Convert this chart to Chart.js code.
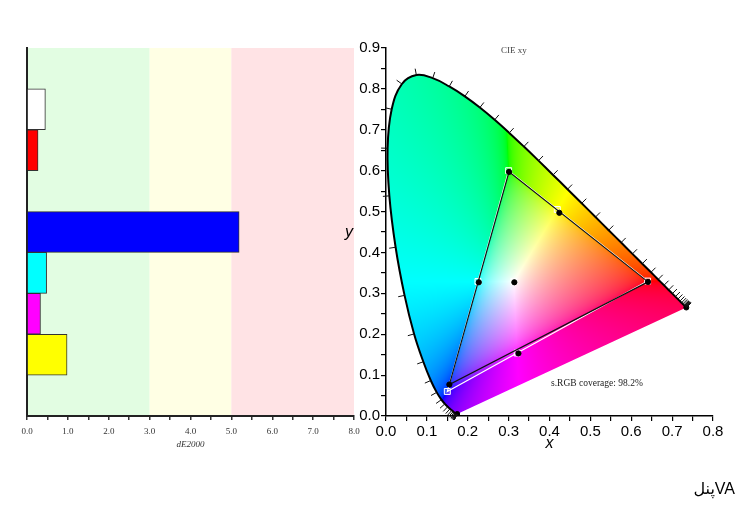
<!DOCTYPE html>
<html><head><meta charset="utf-8">
<script src="https://cdn.jsdelivr.net/npm/chart.js@4"></script>
<style>
html,body{margin:0;padding:0;background:#fff;width:751px;height:517px;overflow:hidden;position:relative;}
#left{position:absolute;left:0;top:0;}
#right{position:absolute;left:330px;top:0;}
#cap{position:absolute;right:16px;top:479px;font:16px "Liberation Sans","DejaVu Sans",sans-serif;color:#000;direction:ltr;}
</style></head><body>
<canvas id="left" width="370" height="517"></canvas>
<canvas id="right" width="421" height="517"></canvas>
<div id="cap">پنلVA</div>
<script>
// ---------- left panel data ----------
const patchNames  = ['Black','White','Red','Green','Blue','Cyan','Magenta','Yellow','Gray'];
const dE2000      = [null, 0.45, 0.27, null, 5.19, 0.48, 0.33, 0.98, null];
const patchColors = ['#000000','#ffffff','#ff0000','#00ff00','#0000ff','#00ffff','#ff00ff','#ffff00','#808080'];
const bandEdges   = [0, 3, 5, 8];
const bandColors  = ['#e2fde2', '#ffffe4', '#ffe3e5'];

// ---------- right panel data (CIE 1931 xy) ----------
const wavelengths = [380,385,390,395,400,405,410,415,420,425,430,435,440,445,450,455,460,465,470,475,480,485,490,495,500,505,510,515,520,525,530,535,540,545,550,555,560,565,570,575,580,585,590,595,600,605,610,615,620,625,630,635,640,645,650,655,660,665,670,675,680,685,690,695,700];
const locusX = [0.1741,0.1740,0.1738,0.1736,0.1733,0.1730,0.1726,0.1721,0.1714,0.1703,0.1689,0.1669,0.1644,0.1611,0.1566,0.1510,0.1440,0.1355,0.1241,0.1096,0.0913,0.0687,0.0454,0.0235,0.0082,0.0039,0.0139,0.0389,0.0743,0.1142,0.1547,0.1929,0.2296,0.2658,0.3016,0.3373,0.3731,0.4087,0.4441,0.4788,0.5125,0.5448,0.5752,0.6029,0.6270,0.6482,0.6658,0.6801,0.6915,0.7006,0.7079,0.7140,0.7190,0.7230,0.7260,0.7283,0.7300,0.7311,0.7320,0.7327,0.7334,0.7340,0.7344,0.7346,0.7347];
const locusY = [0.0050,0.0050,0.0049,0.0049,0.0048,0.0048,0.0048,0.0048,0.0051,0.0058,0.0069,0.0086,0.0109,0.0138,0.0177,0.0227,0.0297,0.0399,0.0578,0.0868,0.1327,0.2007,0.2950,0.4127,0.5384,0.6548,0.7502,0.8120,0.8338,0.8262,0.8059,0.7816,0.7543,0.7243,0.6923,0.6589,0.6245,0.5896,0.5547,0.5202,0.4866,0.4544,0.4242,0.3965,0.3725,0.3514,0.3340,0.3197,0.3083,0.2993,0.2920,0.2859,0.2809,0.2770,0.2740,0.2717,0.2700,0.2689,0.2680,0.2673,0.2666,0.2660,0.2656,0.2654,0.2653];
const locusEndX = [0.1741, 0.7347];
const locusEndY = [0.0050, 0.2653];

// sRGB reference gamut (closed triangle) and its patch targets
const refTriX = [0.640, 0.300, 0.150, 0.640];
const refTriY = [0.330, 0.600, 0.060, 0.330];
const refPtsX = [0.640, 0.300, 0.150, 0.419, 0.321, 0.225, 0.3127];
const refPtsY = [0.330, 0.600, 0.060, 0.505, 0.154, 0.329, 0.3290];
// measured gamut (closed triangle) and measured patches
const measTriX = [0.641, 0.301, 0.155, 0.641];
const measTriY = [0.328, 0.597, 0.077, 0.328];
const measPtsX = [0.641, 0.301, 0.155, 0.424, 0.324, 0.227, 0.314];
const measPtsY = [0.328, 0.597, 0.077, 0.497, 0.153, 0.327, 0.327];

const chartTitle = 'CIE xy';
const coverageText = 's.RGB coverage: 98.2%';

const pts = (xs, ys) => xs.map((v, i) => ({x: v, y: ys[i]}));

// ---------- left chart ----------
const bandsPlugin = {
  id: 'bands',
  beforeDraw(chart) {
    const {ctx, chartArea: a, scales: {x}} = chart;
    ctx.save();
    for (let i = 0; i < bandColors.length; i++) {
      const x0 = x.getPixelForValue(bandEdges[i]);
      const x1 = x.getPixelForValue(bandEdges[i + 1]);
      ctx.fillStyle = bandColors[i];
      ctx.fillRect(x0, a.top, x1 - x0, a.bottom - a.top);
    }
    ctx.restore();
  }
};

new Chart(document.getElementById('left'), {
  type: 'bar',
  data: {
    labels: patchNames,
    datasets: [{
      data: dE2000,
      backgroundColor: patchColors,
      borderColor: '#333',
      borderWidth: 1,
      barPercentage: 1,
      categoryPercentage: 1
    }]
  },
  options: {
    indexAxis: 'y',
    responsive: false,
    animation: false,
    devicePixelRatio: 1,
    layout: {padding: {left: 27, right: 16, top: 48, bottom: 67}},
    plugins: {legend: {display: false}, tooltip: {enabled: false}},
    scales: {
      y: {
        ticks: {display: false},
        grid: {display: false},
        border: {display: true, color: '#222', width: 2},
        afterFit(s) { s.width = 0; }
      },
      x: {
        type: 'linear', min: 0, max: 8,
        ticks: {
          stepSize: 0.5, autoSkip: false, maxRotation: 0, padding: 6,
          color: '#333',
          font: {family: '"Liberation Serif", serif', size: 9},
          callback: v => (Math.abs(v - Math.round(v)) < 1e-6 ? v.toFixed(1) : '')
        },
        grid: {display: true, drawOnChartArea: false, drawTicks: true, tickLength: 4, color: '#333', lineWidth: 1.5},
        border: {display: true, color: '#222', width: 2},
        title: {display: true, text: 'dE2000', color: '#333', padding: {top: 0, bottom: 0},
                font: {family: '"Liberation Serif", serif', size: 9, style: 'italic'}},
        afterFit(s) { s.height = 34; }
      }
    }
  },
  plugins: [bandsPlugin]
});

// ---------- right chart ----------
function xyToRGB(x, y) {
  if (y <= 0) return [0, 0, 0];
  const X = x / y, Y = 1, Z = (1 - x - y) / y;
  let r = 3.2406 * X - 1.5372 * Y - 0.4986 * Z;
  let g = -0.9689 * X + 1.8758 * Y + 0.0415 * Z;
  let b = 0.0557 * X - 0.2040 * Y + 1.0570 * Z;
  const mn = Math.min(r, g, b);
  if (mn < 0) { r -= mn; g -= mn; b -= mn; }
  const mx = Math.max(r, g, b) || 1;
  const gam = c => { c = c / mx; return 255 * (c <= 0.0031308 ? 12.92 * c : 1.055 * Math.pow(c, 1 / 2.4) - 0.055); };
  return [gam(r), gam(g), gam(b)];
}

const LOCUS_INDEX = 5;

function locusPath(chart, ctx) {
  const meta = chart.getDatasetMeta(LOCUS_INDEX);
  meta.dataset.updateControlPoints(chart.chartArea, 'x');
  const P = meta.data;
  ctx.moveTo(P[0].x, P[0].y);
  for (let i = 1; i < P.length; i++) {
    const a = P[i - 1], b = P[i];
    ctx.bezierCurveTo(a.cp2x, a.cp2y, b.cp1x, b.cp1y, b.x, b.y);
  }
}

const cieFill = {
  id: 'cieFill',
  beforeDraw(chart) {
    const {ctx, chartArea: a, scales: {x, y}} = chart;
    const w = Math.ceil(a.right - a.left), h = Math.ceil(a.bottom - a.top);
    const off = document.createElement('canvas');
    off.width = w; off.height = h;
    const octx = off.getContext('2d');
    const img = octx.createImageData(w, h);
    for (let j = 0; j < h; j++) {
      const cy = y.getValueForPixel(a.top + j + 0.5);
      for (let i = 0; i < w; i++) {
        const cx = x.getValueForPixel(a.left + i + 0.5);
        const [r, g, b] = xyToRGB(cx, cy);
        const k = (j * w + i) * 4;
        img.data[k] = r; img.data[k + 1] = g; img.data[k + 2] = b; img.data[k + 3] = 255;
      }
    }
    octx.putImageData(img, 0, 0);
    ctx.save();
    ctx.beginPath();
    locusPath(chart, ctx);
    ctx.closePath();
    ctx.clip();
    ctx.drawImage(off, a.left, a.top);
    ctx.restore();
  },
  afterDatasetsDraw(chart) {
    const {ctx, chartArea: a, scales: {x, y}} = chart;
    // wavelength ticks, outward from the spectral locus
    const P = locusX.map((lx, i) => [x.getPixelForValue(lx), y.getPixelForValue(locusY[i])]);
    ctx.save();
    ctx.strokeStyle = '#111';
    ctx.lineWidth = 1;
    for (let i = 0; i < P.length; i++) {
      let dx = 0, dy = 0;
      for (let s = 1; s < 12; s++) {
        const i0 = Math.max(0, i - s), i1 = Math.min(P.length - 1, i + s);
        dx = P[i1][0] - P[i0][0]; dy = P[i1][1] - P[i0][1];
        if (Math.hypot(dx, dy) > 3) break;
      }
      const L = Math.hypot(dx, dy);
      if (L < 0.5) continue;
      const nx = dy / L, ny = -dx / L;
      ctx.beginPath();
      ctx.moveTo(P[i][0], P[i][1]);
      ctx.lineTo(P[i][0] + nx * 6.5, P[i][1] + ny * 6.5);
      ctx.stroke();
    }
    // annotations
    ctx.fillStyle = '#444';
    ctx.font = '9px "Liberation Serif", serif';
    ctx.textAlign = 'center';
    ctx.textBaseline = 'middle';
    ctx.fillText(chartTitle, x.getPixelForValue(0.313), y.getPixelForValue(0.893));
    ctx.fillStyle = '#222';
    ctx.font = '9.5px "Liberation Serif", serif';
    ctx.fillText(coverageText, x.getPixelForValue(0.516), y.getPixelForValue(0.080));
    // y-axis title (upright)
    ctx.fillStyle = '#000';
    ctx.font = 'italic 16px "Liberation Sans", sans-serif';
    ctx.fillText('y', y.left + 19, (a.top + a.bottom) / 2 + 1);
    ctx.restore();
  }
};

const tenthLabel = v => (Math.abs(v * 10 - Math.round(v * 10)) < 1e-6 ? v.toFixed(1) : '');

new Chart(document.getElementById('right'), {
  type: 'scatter',
  data: {
    datasets: [
      {label: 'measured patches', data: pts(measPtsX, measPtsY), pointRadius: 2.6, pointBackgroundColor: '#000', pointBorderColor: '#000', showLine: false, order: 1},
      {label: 'measured gamut', data: pts(measTriX, measTriY), showLine: true, pointRadius: 0, borderColor: '#111', borderWidth: 1.2, order: 2},
      {label: 'sRGB targets', data: pts(refPtsX, refPtsY), pointStyle: 'rect', pointRadius: 4.2, pointBackgroundColor: 'rgba(255,255,255,0.25)', pointBorderColor: '#ffffff', pointBorderWidth: 1, showLine: false, order: 3},
      {label: 'sRGB gamut', data: pts(refTriX, refTriY), showLine: true, pointRadius: 0, borderColor: '#ffffff', borderWidth: 1.2, order: 4},
      {label: 'locus ends', data: pts(locusEndX, locusEndY), pointRadius: 2.5, pointBackgroundColor: '#000', pointBorderColor: '#000', showLine: false, order: 5},
      {label: 'spectral locus', data: pts(locusX, locusY), showLine: true, pointRadius: 0, borderColor: '#000', borderWidth: 2, tension: 0.4, capBezierPoints: false, order: 6}
    ]
  },
  options: {
    responsive: false,
    animation: false,
    devicePixelRatio: 1,
    layout: {padding: {left: 0, right: 38, top: 48, bottom: 64}},
    plugins: {legend: {display: false}, tooltip: {enabled: false}},
    scales: {
      x: {
        type: 'linear', min: 0, max: 0.8,
        ticks: {stepSize: 0.05, autoSkip: false, maxRotation: 0, padding: 2, color: '#000',
                font: {family: '"Liberation Sans", sans-serif', size: 15}, callback: tenthLabel},
        grid: {display: true, drawOnChartArea: false, drawTicks: true, tickLength: 5, color: '#000', lineWidth: 1.2},
        border: {display: true, color: '#000', width: 1.5},
        title: {display: true, text: 'x', color: '#000', padding: {top: 0, bottom: 0},
                font: {family: '"Liberation Sans", sans-serif', size: 16, style: 'italic'}},
        afterFit(s) { s.height = 37; }
      },
      y: {
        type: 'linear', min: 0, max: 0.9,
        ticks: {stepSize: 0.05, autoSkip: false, padding: 1, color: '#000',
                font: {family: '"Liberation Sans", sans-serif', size: 15}, callback: tenthLabel},
        grid: {display: true, drawOnChartArea: false, drawTicks: true, tickLength: 5, color: '#000', lineWidth: 1.2},
        border: {display: true, color: '#000', width: 1.5},
        afterFit(s) { s.width = 56; }
      }
    }
  },
  plugins: [cieFill]
});
</script>
</body></html>
